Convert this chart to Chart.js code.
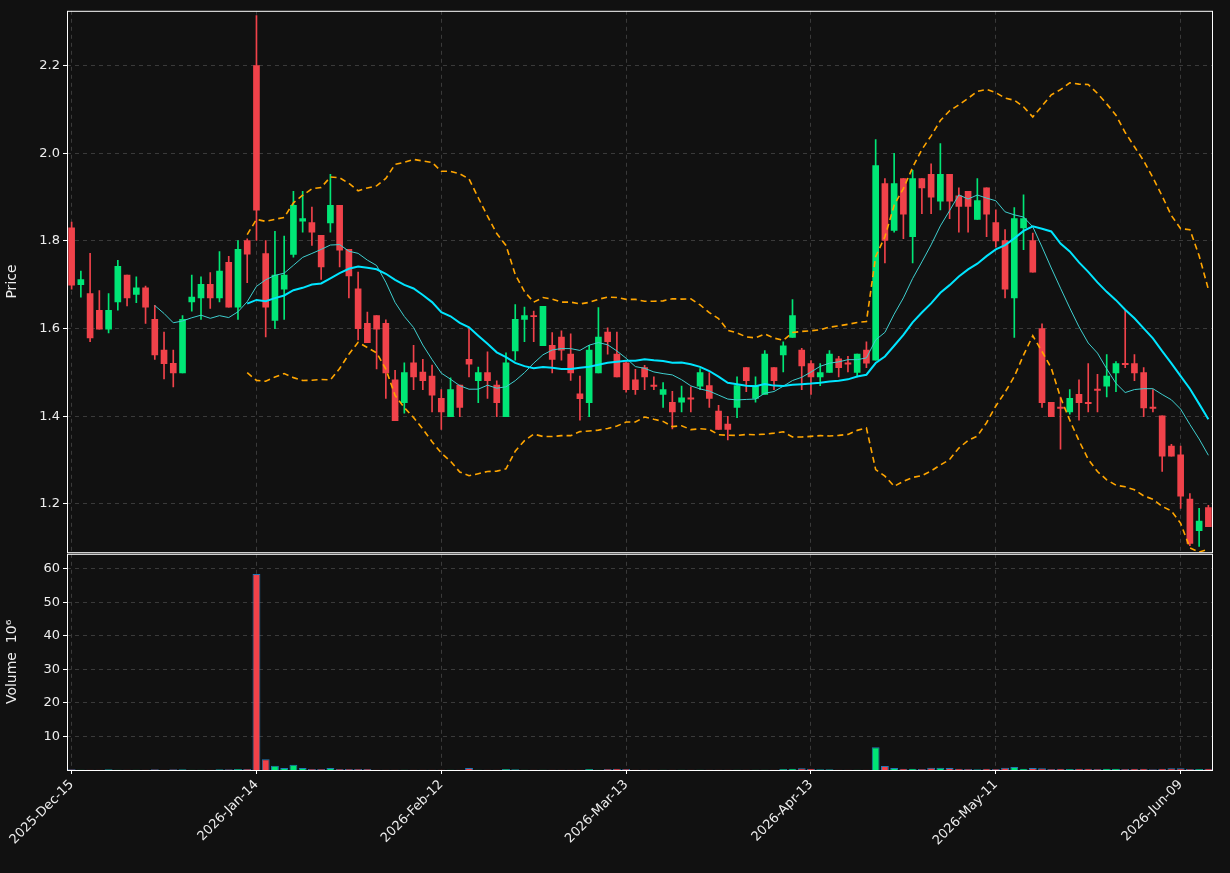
<!DOCTYPE html>
<html>
<head>
<meta charset="utf-8">
<script src="https://cdn.jsdelivr.net/npm/chart.js@4.4.1/dist/chart.umd.min.js"></script>
<style>
  html, body { margin: 0; padding: 0; background: #111111; overflow: hidden; }
  #wrap { position: relative; width: 1230px; height: 873px; }
  #priceChart { position: absolute; left: 0; top: 0; }
  #volChart { position: absolute; left: 0; top: 543px; }
</style>
</head>
<body>
<div id="wrap">
  <canvas id="priceChart" width="1230" height="563"></canvas>
  <canvas id="volChart" width="1230" height="330"></canvas>
</div>
<script>
// ------------ DATA ------------------------------------
const tickLabels = ["2025-Dec-15", "2026-Jan-14", "2026-Feb-12", "2026-Mar-13", "2026-Apr-13", "2026-May-11", "2026-Jun-09"];
const tickEvery = 20;
const priceTicks = [1.2, 1.4, 1.6, 1.8, 2.0, 2.2];
const volumeTicks = [10, 20, 30, 40, 50, 60];

const opens = [1.83,1.70,1.68,1.642,1.599,1.661,1.722,1.678,1.693,1.621,1.551,1.521,1.499,1.661,1.670,1.701,1.670,1.751,1.649,1.801,
  2.20,1.771,1.619,1.690,1.769,1.845,1.842,1.813,1.841,1.881,1.781,1.691,1.612,1.630,1.612,1.483,1.431,1.522,1.501,1.492,
  1.441,1.399,1.471,1.530,1.481,1.500,1.471,1.399,1.549,1.621,1.630,1.561,1.562,1.581,1.542,1.451,1.431,1.499,1.592,1.542,
  1.522,1.483,1.511,1.471,1.450,1.432,1.432,1.442,1.469,1.470,1.412,1.382,1.420,1.511,1.441,1.450,1.511,1.540,1.580,1.551,
  1.520,1.490,1.500,1.531,1.522,1.500,1.551,1.528,1.931,1.824,1.942,1.810,1.942,1.952,1.891,1.952,1.903,1.913,1.849,1.921,
  1.842,1.801,1.670,1.830,1.801,1.600,1.432,1.421,1.410,1.450,1.432,1.462,1.469,1.499,1.521,1.520,1.500,1.421,1.401,1.332,
  1.312,1.211,1.139,1.192];
const highs = [1.843,1.731,1.772,1.687,1.680,1.756,1.722,1.718,1.697,1.653,1.592,1.551,1.630,1.722,1.718,1.728,1.776,1.765,1.801,1.805,
  2.314,1.801,1.822,1.811,1.913,1.913,1.877,1.813,1.952,1.881,1.781,1.729,1.638,1.630,1.620,1.505,1.522,1.562,1.530,1.517,
  1.461,1.488,1.471,1.602,1.512,1.547,1.481,1.545,1.655,1.649,1.640,1.651,1.591,1.595,1.588,1.492,1.562,1.648,1.602,1.592,
  1.525,1.507,1.516,1.490,1.477,1.457,1.469,1.467,1.509,1.500,1.425,1.400,1.490,1.511,1.490,1.550,1.511,1.570,1.666,1.555,
  1.527,1.520,1.550,1.537,1.537,1.542,1.570,2.031,1.942,2.000,1.942,1.961,1.942,1.976,2.022,1.952,1.921,1.913,1.942,1.921,
  1.871,1.826,1.876,1.905,1.818,1.611,1.432,1.444,1.461,1.483,1.520,1.496,1.541,1.525,1.642,1.541,1.511,1.461,1.401,1.336,
  1.332,1.224,1.190,1.197];
const lows = [1.69,1.672,1.570,1.599,1.590,1.642,1.652,1.659,1.612,1.530,1.485,1.467,1.499,1.640,1.621,1.646,1.661,1.649,1.621,1.705,
  1.801,1.581,1.600,1.621,1.763,1.820,1.790,1.712,1.820,1.741,1.670,1.574,1.568,1.508,1.441,1.390,1.407,1.461,1.461,1.410,
  1.370,1.399,1.399,1.490,1.431,1.441,1.399,1.399,1.528,1.570,1.570,1.561,1.499,1.528,1.482,1.391,1.399,1.499,1.542,1.490,
  1.455,1.450,1.461,1.461,1.420,1.371,1.410,1.410,1.461,1.420,1.370,1.346,1.397,1.456,1.432,1.450,1.461,1.501,1.580,1.461,
  1.450,1.470,1.500,1.490,1.501,1.490,1.511,1.528,1.750,1.820,1.805,1.750,1.862,1.862,1.871,1.851,1.820,1.820,1.849,1.810,
  1.786,1.670,1.580,1.780,1.729,1.420,1.399,1.325,1.405,1.391,1.410,1.410,1.444,1.456,1.511,1.481,1.399,1.410,1.274,1.309,
  1.190,1.105,1.103,1.148];
const closes = [1.699,1.712,1.579,1.599,1.642,1.742,1.670,1.693,1.649,1.540,1.520,1.499,1.621,1.672,1.701,1.670,1.731,1.649,1.781,1.770,
  1.870,1.649,1.722,1.722,1.881,1.851,1.820,1.741,1.881,1.779,1.720,1.600,1.568,1.599,1.499,1.390,1.500,1.490,1.481,1.448,
  1.410,1.461,1.420,1.519,1.500,1.481,1.431,1.522,1.621,1.630,1.628,1.651,1.530,1.551,1.499,1.440,1.551,1.581,1.570,1.490,
  1.461,1.461,1.490,1.469,1.461,1.410,1.442,1.440,1.500,1.441,1.370,1.370,1.470,1.481,1.470,1.542,1.481,1.561,1.630,1.515,
  1.490,1.500,1.542,1.511,1.520,1.542,1.521,1.972,1.801,1.931,1.861,1.942,1.921,1.900,1.952,1.891,1.879,1.879,1.892,1.861,
  1.800,1.690,1.851,1.851,1.729,1.431,1.399,1.419,1.441,1.431,1.430,1.460,1.492,1.520,1.519,1.499,1.419,1.419,1.309,1.309,
  1.218,1.110,1.161,1.148];
// volume in millions
const volumes = [0.2,0.1,0.1,0.1,0.2,0.1,0.1,0.1,0.1,0.2,0.1,0.2,0.2,0.1,0.1,0.1,0.2,0.2,0.3,0.3,
  58.5,3.2,1.3,0.6,1.6,0.6,0.3,0.3,0.6,0.3,0.3,0.3,0.3,0.1,0.1,0.1,0.1,0.1,0.1,0.1,
  0.1,0.1,0.1,0.6,0.1,0.1,0.1,0.3,0.2,0.1,0.1,0.1,0.1,0.1,0.1,0.1,0.3,0.1,0.3,0.4,
  0.3,0.1,0.1,0.1,0.1,0.1,0.1,0.1,0.1,0.1,0.1,0.1,0.1,0.1,0.1,0.1,0.1,0.3,0.4,0.5,
  0.4,0.2,0.2,0.1,0.1,0.1,0.1,6.8,1.2,0.6,0.4,0.4,0.3,0.7,0.7,0.6,0.4,0.3,0.2,0.4,
  0.3,0.7,0.9,0.4,0.6,0.5,0.3,0.4,0.3,0.4,0.4,0.3,0.4,0.4,0.3,0.4,0.4,0.2,0.4,0.5,
  0.5,0.3,0.3,0.4];
const maFast = 10;
const maSlow = 20;

// ------------ HELPERS -------------
const UP = "#00e676";
const DOWN = "#f0424a";
const LEFT_W = 67;

function rolling(arr, n, fn) {
  return arr.map((_, i) => i < n - 1 ? null : fn(arr.slice(i - n + 1, i + 1)));
}
const mean = a => a.reduce((s, v) => s + v, 0) / a.length;
const stdev = a => { const m = mean(a); return Math.sqrt(a.reduce((s, v) => s + (v - m) * (v - m), 0) / (a.length - 1)); };

const idx = closes.map((_, i) => i);
const colors = closes.map((c, i) => c >= opens[i] ? UP : DOWN);
const fastLine = rolling(closes, maFast, mean);
const slowLine = rolling(closes, maSlow, mean);
const sdLine = rolling(closes, maSlow, stdev);
const upperBand = slowLine.map((m, i) => m === null ? null : m + 2 * sdLine[i]);
const lowerBand = slowLine.map((m, i) => m === null ? null : m - 2 * sdLine[i]);

const frame = {
  id: "frame",
  afterDraw(chart) {
    const a = chart.chartArea, c = chart.ctx;
    c.save();
    c.strokeStyle = "#ffffff";
    c.lineWidth = 1;
    c.strokeRect(a.left + 0.5, a.top + 0.5, a.right - a.left - 1, a.bottom - a.top);
    c.restore();
  }
};

const gridColorX = ctx => (ctx.index % tickEvery === 0) ? "#3a3a3a" : "rgba(0,0,0,0)";
const fontSpec = { family: "DejaVu Sans", size: 13 };
const titleSpec = { family: "DejaVu Sans", size: 14 };
Chart.defaults.color = "#eeeeee";
Chart.defaults.animation = false;

// ================== PRICE PANEL ==================
new Chart(document.getElementById("priceChart"), {
  type: "bar",
  data: {
    labels: idx,
    datasets: [
      { type: "line", data: upperBand, borderColor: "#ffa500", borderWidth: 1.6, borderDash: [6, 4], pointRadius: 0, order: 0 },
      { type: "line", data: lowerBand, borderColor: "#ffa500", borderWidth: 1.6, borderDash: [6, 4], pointRadius: 0, order: 0 },
      { type: "line", data: slowLine, borderColor: "#00e5ff", borderWidth: 2, pointRadius: 0, order: 1 },
      { type: "line", data: fastLine, borderColor: "#3fcfcf", borderWidth: 1, pointRadius: 0, order: 1 },
      { data: lows.map((l, i) => [l, highs[i]]), backgroundColor: colors, barThickness: 1, grouped: false, order: 3 },
      { data: opens.map((o, i) => [o, Math.abs(o - closes[i]) < 0.003 ? o + (closes[i] >= o ? 0.003 : -0.003) : closes[i]]),
        backgroundColor: colors, barThickness: 6, grouped: false, order: 2 }
    ]
  },
  options: {
    responsive: false,
    maintainAspectRatio: false,
    layout: { padding: { top: 10, right: 17, bottom: 0, left: 0 } },
    plugins: { legend: { display: false }, tooltip: { enabled: false } },
    scales: {
      x: {
        offset: true,
        ticks: { display: false, autoSkip: false },
        grid: { color: gridColorX, drawTicks: false, offset: false },
        border: { display: false, dash: [4, 4] },
        afterFit: s => { s.height = 0; }
      },
      y: {
        min: 1.09, max: 2.325,
        afterBuildTicks: s => { s.ticks = priceTicks.map(v => ({ value: v })); },
        ticks: { font: fontSpec, color: "#eeeeee", callback: v => v.toFixed(1) },
        grid: { color: "#3a3a3a", tickColor: "#ffffff", tickLength: 4 },
        border: { display: false, dash: [4, 4] },
        title: { display: true, text: "Price", font: titleSpec, color: "#eeeeee", padding: { top: 4, bottom: 0 } },
        afterFit: s => { s.width = LEFT_W; }
      }
    }
  },
  plugins: [frame]
});

// ================== VOLUME PANEL ==================
new Chart(document.getElementById("volChart"), {
  type: "bar",
  data: {
    labels: idx,
    datasets: [{
      data: volumes,
      backgroundColor: colors,
      borderColor: "#1f77b4",
      borderWidth: 1,
      barPercentage: 1.0,
      categoryPercentage: 0.85
    }]
  },
  options: {
    responsive: false,
    maintainAspectRatio: false,
    layout: { padding: { top: 0, right: 17, bottom: 0, left: 0 } },
    plugins: { legend: { display: false }, tooltip: { enabled: false } },
    scales: {
      x: {
        offset: true,
        ticks: {
          autoSkip: false, maxRotation: 45, minRotation: 45, font: fontSpec, color: "#eeeeee",
          callback: (v, i) => i % tickEvery === 0 ? tickLabels[i / tickEvery] : ""
        },
        grid: { color: gridColorX, tickColor: ctx => ctx.index % tickEvery === 0 ? "#ffffff" : "rgba(0,0,0,0)", tickLength: 4, offset: false },
        border: { display: false, dash: [4, 4] },
        afterFit: s => { s.height = 103; }
      },
      y: {
        min: 0, max: 64.5,
        afterBuildTicks: s => { s.ticks = volumeTicks.map(v => ({ value: v })); },
        ticks: { font: fontSpec, color: "#eeeeee" },
        grid: { color: "#3a3a3a", tickColor: "#ffffff", tickLength: 4 },
        border: { display: false, dash: [4, 4] },
        title: { display: true, text: "Volume  10\u2076", font: titleSpec, color: "#eeeeee", padding: { top: 4, bottom: 0 } },
        afterFit: s => { s.width = LEFT_W; }
      }
    }
  },
  plugins: [frame]
});
</script>
</body>
</html>
